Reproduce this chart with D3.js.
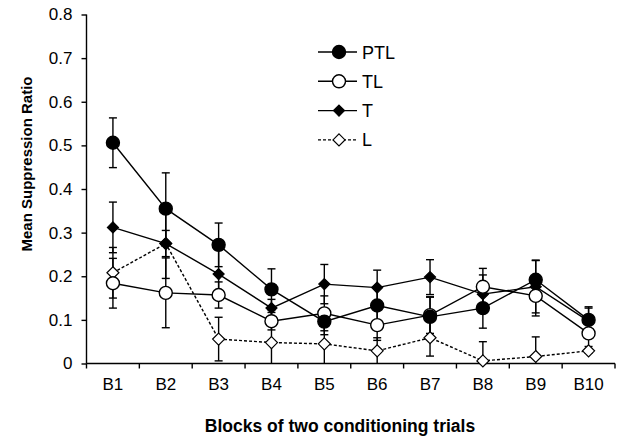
<!DOCTYPE html>
<html>
<head>
<meta charset="utf-8">
<script src="https://cdn.jsdelivr.net/npm/d3@7"></script>
<style>
  body { margin: 0; background: #fff; }
  svg { font-family: "Liberation Sans", Arial, sans-serif; }
</style>
</head>
<body>
<svg width="618" height="437"></svg>
<script>
// data
const blocks = ["B1", "B2", "B3", "B4", "B5", "B6", "B7", "B8", "B9", "B10"];
const yTicks = [0, 0.1, 0.2, 0.3, 0.4, 0.5, 0.6, 0.7, 0.8];

const ptl   = [0.506, 0.355, 0.272, 0.170, 0.096, 0.133, 0.107, 0.127, 0.192, 0.100];
const ptlSe = [0.057, 0.082, 0.050, 0.047, 0.030, 0.040, 0.045, 0.046, 0.045, 0.030];
const tl    = [0.184, 0.162, 0.157, 0.097, 0.115, 0.088, 0.111, 0.176, 0.155, 0.069];
const tlSe  = [0.057, 0.080, 0.030, 0.020, 0.040, 0.035, 0.042, 0.042, 0.046, 0.030];
const t     = [0.312, 0.275, 0.205, 0.127, 0.182, 0.174, 0.198, 0.159, 0.176, 0.097];
const tSe   = [0.058, 0.080, 0.055, 0.020, 0.045, 0.040, 0.040, 0.044, 0.060, 0.030];
const l     = [0.208, 0.275, 0.056, 0.048, 0.045, 0.029, 0.059, 0.006, 0.016, 0.029];
const lSe   = [0.058, 0.030, 0.050, 0.048, 0.045, 0.030, 0.042, 0.044, 0.045, 0.005];

const series = [
  { name: "PTL", values: ptl, se: ptlSe, shape: "circle",  fill: "#000", dash: null },
  { name: "TL",  values: tl,  se: tlSe,  shape: "circle",  fill: "#fff", dash: null },
  { name: "T",   values: t,   se: tSe,   shape: "diamond", fill: "#000", dash: null },
  { name: "L",   values: l,   se: lSe,   shape: "diamond", fill: "#fff", dash: "3,2" }
];

const margin = { top: 14.5, right: 3, bottom: 73.5, left: 86.5 };
const width = 618 - margin.left - margin.right;
const height = 437 - margin.top - margin.bottom;

const svg = d3.select("svg")
              .append("g")
              .attr("transform", `translate(${margin.left},${margin.top})`);

const x = d3.scaleBand().domain(blocks).range([0, width]).padding(0);
const y = d3.scaleLinear().domain([0, 0.8]).range([height, 0]);
const cx = d => x(d) + x.bandwidth() / 2;

// y axis
const yAxis = svg.append("g")
  .call(d3.axisLeft(y).tickValues(yTicks).tickSize(5).tickPadding(9)
        .tickFormat(d => d === 0 ? "0" : d3.format(".1f")(d)));
yAxis.select(".domain").attr("d", `M0,0V${height}`).attr("stroke-width", 1.4);
yAxis.selectAll(".tick line").attr("stroke-width", 1.4);
yAxis.selectAll("text").attr("font-size", 17).attr("fill", "#000");

// x axis: labels at centres, ticks at block boundaries
const xAxis = svg.append("g")
  .attr("transform", `translate(0,${height})`)
  .call(d3.axisBottom(x).tickSize(0).tickPadding(14));
xAxis.select(".domain").attr("d", `M0,0H${width}`).attr("stroke-width", 1.4);
xAxis.selectAll("text").attr("font-size", 17).attr("fill", "#000");
xAxis.selectAll(".bound")
  .data(blocks.map(b => x(b)).concat([width]))
  .enter().append("line")
  .attr("class", "bound")
  .attr("x1", d => d).attr("x2", d => d)
  .attr("y1", 0).attr("y2", 5)
  .attr("stroke", "#000").attr("stroke-width", 1.4);

// axis titles
svg.append("text")
  .attr("x", 340 - margin.left)
  .attr("y", height + 68)
  .attr("text-anchor", "middle")
  .attr("font-size", 17.5)
  .attr("font-weight", "bold")
  .text("Blocks of two conditioning trials");

svg.append("text")
  .attr("transform", "rotate(-90)")
  .attr("x", -(164 - margin.top))
  .attr("y", -55)
  .attr("text-anchor", "middle")
  .attr("font-size", 15)
  .attr("font-weight", "bold")
  .text("Mean Suppression Ratio");

function drawMarker(g, s, px, py) {
  if (s.shape === "circle") {
    g.append("circle")
      .attr("cx", px).attr("cy", py).attr("r", 6.5)
      .attr("fill", s.fill).attr("stroke", "#000").attr("stroke-width", 1.4);
  } else {
    const r = s.fill === "#000" ? 5.5 : 6;
    g.append("path")
      .attr("d", `M${px},${py - r}L${px + r},${py}L${px},${py + r}L${px - r},${py}Z`)
      .attr("fill", s.fill).attr("stroke", "#000").attr("stroke-width", 1.2);
  }
}

// error bars
const errG = svg.append("g");
series.forEach(s => {
  s.values.forEach((v, i) => {
    const px = cx(blocks[i]);
    const top = y(v + s.se[i]);
    const bot = y(Math.max(0, v - s.se[i]));
    errG.append("line").attr("x1", px).attr("x2", px).attr("y1", top).attr("y2", bot)
      .attr("stroke", "#000").attr("stroke-width", 1.4);
    errG.append("line").attr("x1", px - 4).attr("x2", px + 4).attr("y1", top).attr("y2", top)
      .attr("stroke", "#000").attr("stroke-width", 1.4);
    if (v - s.se[i] > 0) {
      errG.append("line").attr("x1", px - 4).attr("x2", px + 4).attr("y1", bot).attr("y2", bot)
        .attr("stroke", "#000").attr("stroke-width", 1.4);
    }
  });
});

// lines
const line = d3.line().x((d, i) => cx(blocks[i])).y(d => y(d));
series.slice().reverse().forEach(s => {
  svg.append("path")
    .datum(s.values)
    .attr("d", line)
    .attr("fill", "none")
    .attr("stroke", "#000")
    .attr("stroke-width", 1.4)
    .attr("stroke-dasharray", s.dash);
});

// markers
series.slice().reverse().forEach(s => {
  const g = svg.append("g");
  s.values.forEach((v, i) => drawMarker(g, s, cx(blocks[i]), y(v)));
});

// legend
const legend = svg.append("g").attr("transform", `translate(${318 - margin.left},${52 - margin.top})`);
series.forEach((s, i) => {
  const row = legend.append("g").attr("transform", `translate(0,${i * 29.3})`);
  row.append("line").attr("x1", 0).attr("x2", 39).attr("y1", 0).attr("y2", 0)
    .attr("stroke", "#000").attr("stroke-width", 1.4).attr("stroke-dasharray", s.dash);
  drawMarker(row, s, 21, 0);
  row.append("text").attr("x", 44).attr("y", 6.5)
    .attr("font-size", 18).text(s.name);
});
</script>
</body>
</html>
